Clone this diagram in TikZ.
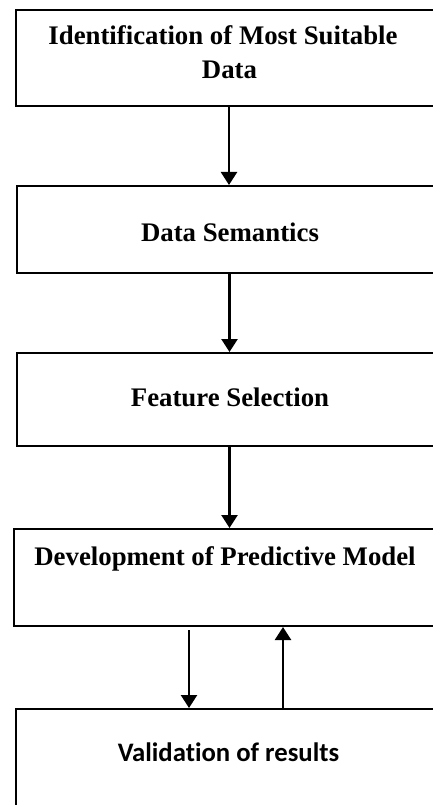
\documentclass[tikz,border=0pt]{standalone}
\usepackage{fontspec}
\setmainfont{Liberation Serif}
\newfontfamily\calib[Ligatures=NoCommon]{Carlito}
\usetikzlibrary{arrows.meta}
\tikzset{
  box/.style={draw=black, line width=2pt, rectangle, inner sep=0pt},
  lbl/.style={anchor=base, inner sep=0pt, font=\fontsize{26.8}{32}\selectfont\bfseries},
  lblsans/.style={anchor=base, inner sep=0pt, font=\fontsize{26.7}{32}\selectfont\calib\bfseries},
  arr/.style={line width=2.4pt, -{Triangle[width=16pt,length=13pt]}}
}
\begin{document}
\begin{tikzpicture}[x=1pt,y=-1pt]
\useasboundingbox (0,0) rectangle (433,805);
\clip (0,0) rectangle (433,805);
\fill[white] (0,0) rectangle (433,805);
\node[box, minimum width=426pt, minimum height=96pt] (b1) at (229,58) {};
\node[box, minimum width=425pt, minimum height=87pt] (b2) at (229.5,229.5) {};
\node[box, minimum width=425pt, minimum height=93pt] (b3) at (229.5,399.5) {};
\node[box, minimum width=428pt, minimum height=97pt] (b4) at (228,577.5) {};
\node[box, minimum width=426pt, minimum height=110pt] (b5) at (229,764) {};
\node[lbl] (t1a) at (223,45) {Identification of Most Suitable};
\node[lbl] (t1b) at (229.5,79) {Data};
\node[lbl] (t2) at (230,241) {Data Semantics};
\node[lbl] (t3) at (230,406) {Feature Selection};
\node[lbl] (t4) at (225,565) {Development of Predictive Model};
\node[lblsans] (t5) at (228.5,761) {Validation of results};
\draw[arr] (b1.south) -- (b1.south |- b2.north);
\draw[arr] (b2.south) -- (b2.south |- b3.north);
\draw[arr] (b3.south) -- (b3.south |- b4.north);
\draw[arr] ([xshift=-39pt,yshift=-3pt]b4.south) -- ([xshift=-39pt]b4.south |- b5.north);
\draw[arr] ([xshift=55pt]b4.south |- b5.north) -- ([xshift=55pt]b4.south);
\end{tikzpicture}
\end{document}
